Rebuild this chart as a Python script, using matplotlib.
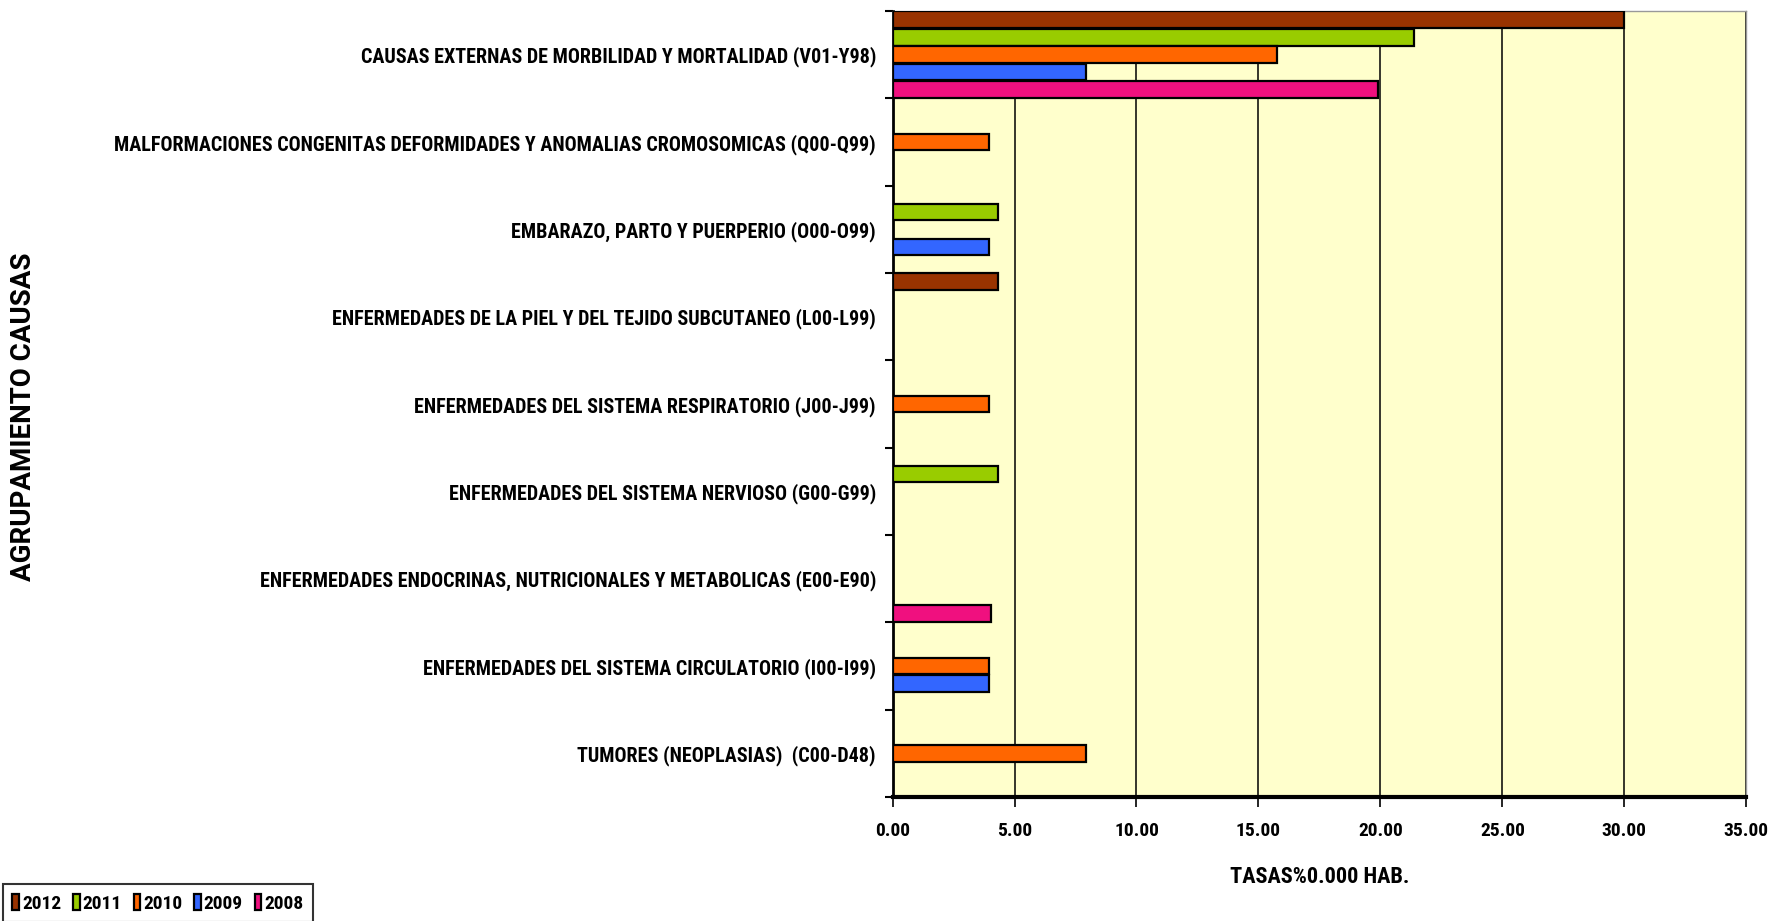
import numpy as np
import matplotlib
matplotlib.use("Agg")
import matplotlib.pyplot as plt
from matplotlib.ticker import FixedLocator

# categorias de abajo hacia arriba
categorias = [
    "TUMORES (NEOPLASIAS)  (C00-D48)",
    "ENFERMEDADES DEL SISTEMA CIRCULATORIO (I00-I99)",
    "ENFERMEDADES ENDOCRINAS, NUTRICIONALES Y METABOLICAS (E00-E90)",
    "ENFERMEDADES DEL SISTEMA NERVIOSO (G00-G99)",
    "ENFERMEDADES DEL SISTEMA RESPIRATORIO (J00-J99)",
    "ENFERMEDADES DE LA PIEL Y DEL TEJIDO SUBCUTANEO (L00-L99)",
    "EMBARAZO, PARTO Y PUERPERIO (O00-O99)",
    "MALFORMACIONES CONGENITAS DEFORMIDADES Y ANOMALIAS CROMOSOMICAS (Q00-Q99)",
    "CAUSAS EXTERNAS DE MORBILIDAD Y MORTALIDAD (V01-Y98)",
]

anios = ["2012", "2011", "2010", "2009", "2008"]

tasa_2012 = [0, 0, 0, 0, 0, 4.31, 0, 0, 30.0]
tasa_2011 = [0, 0, 0, 4.31, 0, 0, 4.31, 0, 21.37]
tasa_2010 = [7.93, 3.94, 0, 0, 3.94, 0, 0, 3.94, 15.76]
tasa_2009 = [0, 3.94, 0, 0, 0, 0, 3.94, 0, 7.93]
tasa_2008 = [0, 0, 4.03, 0, 0, 0, 0, 0, 19.89]

xticks = [0, 5, 10, 15, 20, 25, 30, 35]

series = [tasa_2012, tasa_2011, tasa_2010, tasa_2009, tasa_2008]
colores = ["#993300", "#99CC00", "#FF6600", "#3366FF", "#F0107F"]

narrow = ["Roboto Condensed", "DejaVu Sans"]

fig = plt.figure(figsize=(17.71, 9.21), dpi=100)
ax = fig.add_axes([0.504, 0.1346, 0.482, 0.8534])
ax.set_facecolor("#FFFFCC")

y = np.arange(len(categorias))
alto = 0.2
for k, (vals, col, lab) in enumerate(zip(series, colores, anios)):
    off = 0.4 - k * alto
    vals = np.array(vals, dtype=float)
    vals[vals == 0] = np.nan
    ax.barh(y + off, vals, height=alto * 0.95, color=col, edgecolor="black",
            linewidth=1.6, label=lab, zorder=3)

ax.set_xlim(0, 35)
ax.set_ylim(-0.5, len(categorias) - 0.5)
ax.set_xticks(xticks)
ax.grid(axis="x", color="black", linewidth=1.1, zorder=1)

ax.set_yticks(y)
ax.set_yticklabels(categorias, family=narrow, fontweight="bold", fontsize=14.5)
ax.tick_params(axis="y", which="major", length=0, pad=12)
ax.yaxis.set_minor_locator(FixedLocator(np.arange(-0.5, len(categorias), 1.0)))
ax.tick_params(axis="y", which="minor", length=6, width=1.5, color="black")

ax.set_xticklabels(["%.2f" % v for v in xticks], family=narrow,
                   fontweight="bold", fontsize=14)
ax.tick_params(axis="x", length=7, width=1.2, pad=11)

for s in ["top", "right"]:
    ax.spines[s].set_color("#999999")
    ax.spines[s].set_linewidth(1)
ax.spines["left"].set_linewidth(2)
ax.spines["bottom"].set_linewidth(3)

ax.set_xlabel("TASAS%0.000 HAB.", family=narrow, fontweight="bold", fontsize=16,
              labelpad=19)
fig.text(0.013, 0.547, "AGRUPAMIENTO CAUSAS", rotation=90,
         ha="center", va="center", fontweight="bold", fontsize=20,
         family=["Roboto", "DejaVu Sans"])

leg = fig.legend(loc="lower left", bbox_to_anchor=(-0.004, -0.012), ncol=5,
                 prop={"family": narrow, "weight": "bold", "size": 14},
                 handlelength=0.35, handleheight=0.9, handletextpad=0.15,
                 columnspacing=0.6, borderpad=0.5, fancybox=False,
                 frameon=True, edgecolor="black")
leg.get_frame().set_linewidth(1.5)

fig.savefig("out.png", dpi=100)
